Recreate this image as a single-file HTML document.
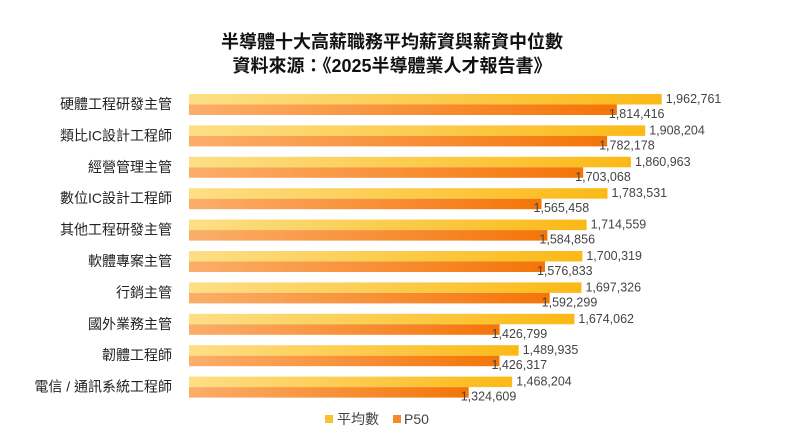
<!DOCTYPE html>
<html><head><meta charset="utf-8"><style>
body{margin:0;background:#fff;}
svg{display:block;font-family:"Liberation Sans","Noto Sans CJK TC",sans-serif;}
</style></head><body>
<svg width="800" height="448">
<defs>
<linearGradient id="gy" x1="0" x2="1"><stop offset="0" stop-color="#fddf86"/><stop offset="1" stop-color="#fbb916"/></linearGradient>
<linearGradient id="go" x1="0" x2="1"><stop offset="0" stop-color="#fbae6a"/><stop offset="1" stop-color="#f47508"/></linearGradient>
</defs>
<text x="392" y="48" text-anchor="middle" font-size="18" font-weight="bold" fill="#111">半導體十大高薪職務平均薪資與薪資中位數</text>
<text x="392" y="72" text-anchor="middle" font-size="18" font-weight="bold" fill="#111">資料來源：《2025半導體業人才報告書》</text>
<g id="bars"></g>
<g>
<rect x="325" y="415" width="8" height="8" fill="#fbc230"/>
<text x="337" y="424" font-size="14" fill="#444">平均數</text>
<rect x="393" y="415" width="8" height="8" fill="#f58a2a"/>
<text x="404" y="424" font-size="14" fill="#444">P50</text>
</g>
</svg>
<script>
const categories=["硬體工程研發主管","類比IC設計工程師","經營管理主管","數位IC設計工程師","其他工程研發主管","軟體專案主管","行銷主管","國外業務主管","韌體工程師","電信 / 通訊系統工程師"];
const avgValues=[1962761,1908204,1860963,1783531,1714559,1700319,1697326,1674062,1489935,1468204];
const p50Values=[1814416,1782178,1703068,1565458,1584856,1576833,1592299,1426799,1426317,1324609];
const xMin=400000, xMax=2000000;
const x0=189, x1=673, rowTop=94, pitch=31.4, barH=10.5;
function xs(v){return x0+(v-xMin)/(xMax-xMin)*(x1-x0);}
const fmt=v=>v.toLocaleString('en-US');
const g=document.getElementById('bars');
const NS='http://www.w3.org/2000/svg';
function mk(t,a){const e=document.createElementNS(NS,t);for(const k in a)e.setAttribute(k,a[k]);g.appendChild(e);return e;}
categories.forEach((c,i)=>{
  const y=rowTop+i*pitch;
  const lab=mk('text',{x:172,y:y+15,'text-anchor':'end','font-size':14,fill:'#222'});
  lab.textContent=c;
  
  
  const ya=mk('rect',{x:x0,y:y,width:xs(avgValues[i])-x0,height:barH,fill:'url(#gy)'});
  
  
  const yo=mk('rect',{x:x0,y:y+barH,width:xs(p50Values[i])-x0,height:barH,fill:'url(#go)'});
  
  
  const ta=mk('text',{x:xs(avgValues[i])+4,y:y+9,'font-size':12.5,fill:'#444'});
  ta.textContent=fmt(avgValues[i]);
  
  
  const tp=mk('text',{x:xs(p50Values[i])-8,y:y+24,'font-size':12.5,fill:'#444'});
  tp.textContent=fmt(p50Values[i]);
  
  
});
</script>
</body></html>
